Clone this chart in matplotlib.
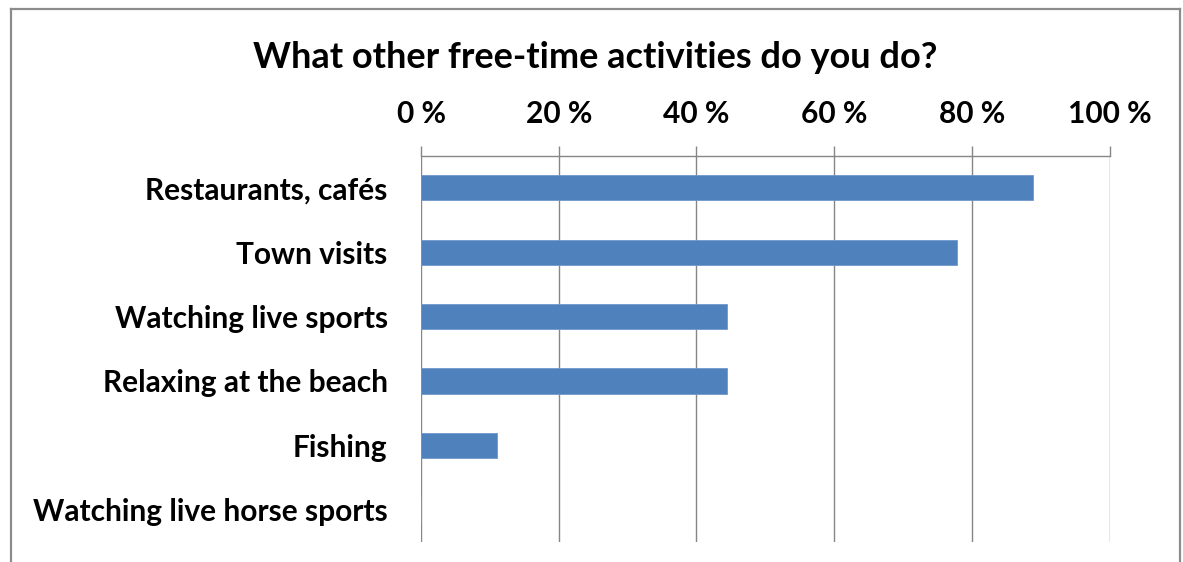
import matplotlib
matplotlib.use("Agg")
import matplotlib.pyplot as plt
from matplotlib.lines import Line2D
from matplotlib.ticker import FuncFormatter

categories = ["Restaurants, cafés", "Town visits", "Watching live sports",
              "Relaxing at the beach", "Fishing", "Watching live horse sports"]
values = [88.9, 77.8, 44.4, 44.4, 11.1, 0.0]
xticks = [0, 20, 40, 60, 80, 100]
title = "What other free-time activities do you do?"

plt.rcParams['font.family'] = ['Lato', 'DejaVu Sans']

fig = plt.figure(figsize=(11.83, 5.62), dpi=100)
ax = fig.add_axes([421/1183, 1-542/562, (1109.5-421)/1183, (542-155.5)/562])

ypos = list(range(len(categories)))
ax.barh(ypos, values, height=0.39, color="#4F81BD", edgecolor="#6f98cc", linewidth=0.6, zorder=3)
ax.set_ylim(len(categories)-0.5, -0.5)
ax.set_xlim(0, 100)
ax.set_yticks(ypos)
ax.set_yticklabels(categories, fontsize=21.5, fontweight='bold')
ax.tick_params(axis='y', length=0, pad=24)

ax.xaxis.tick_top()
ax.set_xticks(xticks)
ax.xaxis.set_major_formatter(FuncFormatter(lambda v, p: f"{int(v)} %"))
ax.tick_params(axis='x', length=7.5, width=1.0, color="#868686", pad=12, labelsize=21.5)
for lab in ax.get_xticklabels():
    lab.set_fontweight('bold')
ax.grid(axis='x', color="#868686", linewidth=1.0, zorder=0)
for s in ['left', 'right', 'bottom']:
    ax.spines[s].set_visible(False)
ax.spines['top'].set_color("#868686")
ax.spines['top'].set_linewidth(1.0)

fig.text(595/1183, 1-58/562, title, ha='center', va='center', fontsize=26, fontweight='bold')

# chart frame
fc = "#8c8c8c"
fig.add_artist(Line2D([10.5/1183, 10.5/1183], [0, 1-9/562], transform=fig.transFigure, color=fc, lw=1.6))
fig.add_artist(Line2D([10.5/1183, 1180/1183], [1-9/562, 1-9/562], transform=fig.transFigure, color=fc, lw=1.6))
fig.add_artist(Line2D([1180/1183, 1180/1183], [0, 1-9/562], transform=fig.transFigure, color=fc, lw=1.6))

fig.savefig("out.png", dpi=100)
